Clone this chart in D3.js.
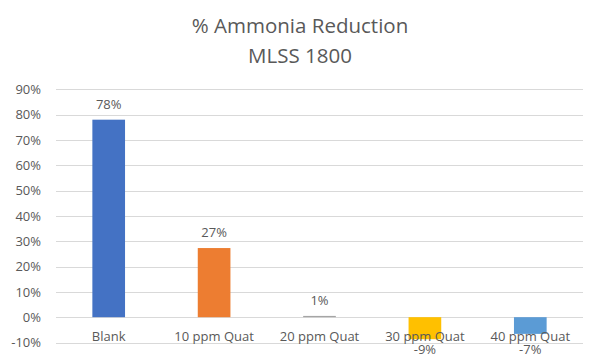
<!DOCTYPE html>
<html><head><meta charset="utf-8">
<script src="https://cdn.jsdelivr.net/npm/d3@7/dist/d3.min.js"></script>
<style>body{margin:0;background:#fff}svg{display:block}text{font-family:"Open Sans","Noto Sans",sans-serif;fill:#595959}</style>
</head><body>
<script>
const categories = ["Blank","10 ppm Quat","20 ppm Quat","30 ppm Quat","40 ppm Quat"];
const values = [0.78, 0.273, 0.005, -0.087, -0.066];
const colors = ["#4472C4","#ED7D31","#A5A5A5","#FFC000","#5B9BD5"];
const yTicks = [-0.1,0,0.1,0.2,0.3,0.4,0.5,0.6,0.7,0.8,0.9];
const titleLines = ["% Ammonia Reduction","MLSS 1800"];

const W=601,H=360;
const svg=d3.select("body").append("svg").attr("width",W).attr("height",H);
const x=d3.scaleBand().domain(categories).range([56,583]).paddingInner(0.69).paddingOuter(0.345);
const y=d3.scaleLinear().domain([-0.1,0.9]).range([342.5,89.3]);
const pct=d3.format(".0%");
const fmt=d=>pct(d).replace("\u2212","-");

svg.selectAll(".title").data(titleLines).join("text")
 .attr("x",300).attr("y",(d,i)=>33+i*30).attr("text-anchor","middle")
 .style("font-size","20.5px").text(d=>d);

const yAxis=d3.axisLeft(y).tickValues(yTicks).tickFormat(fmt).tickSize(0).tickPadding(15);
const ga=svg.append("g").attr("transform","translate(56,0)").call(yAxis);
ga.select(".domain").remove();
ga.selectAll("text").style("font-size","13px").attr("fill","#595959");

svg.append("g").selectAll("line").data(yTicks).join("line")
 .attr("x1",56).attr("x2",583).attr("y1",d=>Math.round(y(d))+0.5).attr("y2",d=>Math.round(y(d))+0.5)
 .attr("stroke","#D9D9D9").attr("stroke-width",1);

svg.append("g").selectAll("rect").data(values).join("rect")
 .attr("x",(d,i)=>x(categories[i])).attr("width",x.bandwidth())
 .attr("y",d=>y(Math.max(0,d))).attr("height",d=>Math.abs(y(d)-y(0)))
 .attr("fill",(d,i)=>colors[i]);

svg.append("g").selectAll("text").data(categories).join("text")
 .attr("x",d=>x(d)+x.bandwidth()/2).attr("y",341).attr("text-anchor","middle")
 .style("font-size","13px").attr("fill","#404040").text(d=>d);

svg.append("g").selectAll("text").data(values).join("text")
 .attr("x",(d,i)=>x(categories[i])+x.bandwidth()/2)
 .attr("y",d=>d>=0?y(d)-11:y(-0.1)+11).attr("text-anchor","middle")
 .style("font-size","13px").text(d=>fmt(d));
</script>
</body></html>
